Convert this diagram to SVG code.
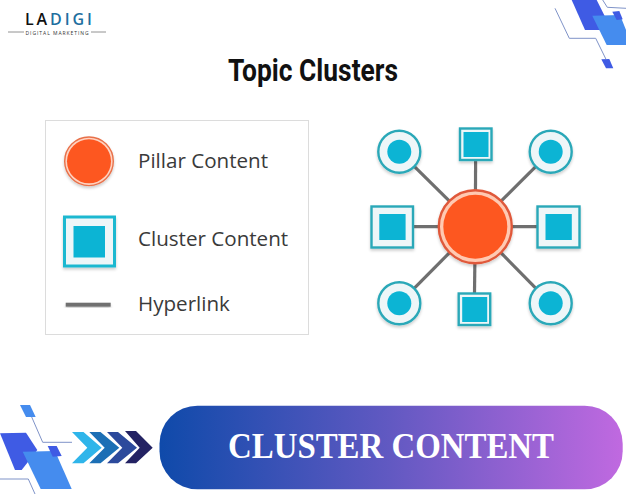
<svg xmlns="http://www.w3.org/2000/svg" width="626" height="494" viewBox="0 0 626 494">
<defs>
<linearGradient id="bannerFill" x1="0" y1="0" x2="1" y2="0"><stop offset="0" stop-color="#0f4aaa"/><stop offset="0.5" stop-color="#6259c2"/><stop offset="1" stop-color="#c069e0"/></linearGradient>
<filter id="soft" x="-20%" y="-20%" width="140%" height="150%"><feGaussianBlur in="SourceAlpha" stdDeviation="1.6"/><feOffset dy="2"/><feComponentTransfer><feFuncA type="linear" slope="0.2"/></feComponentTransfer><feMerge><feMergeNode/><feMergeNode in="SourceGraphic"/></feMerge></filter>
</defs>
<style>
.label{font-family:"Open Sans","Noto Sans",sans-serif;font-size:20.6px;fill:#3a3a3a}
.link{stroke:#6f6f6f;stroke-width:3.2;fill:none}
.shell{fill:#eef6f8;stroke:#2aa8b8;stroke-width:2.4}
.core{fill:#0cb4d4}
.pillar{fill:#fd5720}
.trace{fill:none;stroke:#7f93c8;stroke-width:1}
</style>
<rect width="626" height="494" fill="#ffffff"/>

<g id="logo">
<text x="25" y="24.500" font-family="'Open Sans',sans-serif" font-size="16" font-weight="600" letter-spacing="2.900" fill="#111111">LA<tspan fill="#1f6f9f">DIGI</tspan></text>
<path d="M8 32H24M91 32H106" stroke="#777777" stroke-width="0.8"/>
<text x="25.500" y="34.600" font-family="'Open Sans',sans-serif" font-size="5" letter-spacing="0.95" fill="#333333">DIGITAL MARKETING</text>
</g>

<g id="decor-top">
<polygon points="571.700,0 596.700,0 611.700,30 585,30" fill="#3f5be4"/>
<polygon points="592.300,15.700 620,15 626,30 626,45 606.700,45" fill="#458cee"/>
<polygon points="612.300,11.700 619.300,11 622.700,19.300 616.700,20" fill="#3f5be4"/>
<polygon points="601.300,59.300 609.300,59 613.300,68.300 606,68.300" fill="#3f5be4"/>
<path class="trace" d="M555 8.300L569.300 38.300H595.700L606 59.300M602.700 0L607.300 7.300L626 8.300"/>
</g>

<text id="title" x="228" y="81" font-family="Roboto,sans-serif" font-size="31" font-weight="700" textLength="170" lengthAdjust="spacingAndGlyphs" fill="#111111">Topic Clusters</text>

<g id="legend">
<rect x="45.500" y="120.500" width="263" height="214" fill="#ffffff" stroke="#dcdcdc" stroke-width="1"/>
<g id="legend-pillar">
<circle cx="89" cy="161.300" r="24.300" fill="#ffd2c0" stroke="#e8714a" stroke-width="1.400" filter="url(#soft)"/>
<circle cx="89" cy="161.300" r="22" class="pillar"/>
<text class="label" x="138" y="167.500">Pillar Content</text>
</g>
<g id="legend-cluster">
<rect x="64.500" y="217" width="50" height="49" fill="#eef6f8" stroke="#1fb8d0" stroke-width="3" filter="url(#soft)"/>
<rect x="73.500" y="226" width="31.500" height="31.500" class="core"/>
<text class="label" x="138" y="245.500">Cluster Content</text>
</g>
<g id="legend-hyperlink">
<rect x="65.700" y="302.700" width="45" height="4" fill="#6f6f6f" filter="url(#soft)"/>
<text class="label" x="138" y="311">Hyperlink</text>
</g>
</g>

<g id="connectors">
<line class="link" x1="475.300" y1="226.700" x2="399.300" y2="151.700"/>
<line class="link" x1="475.300" y1="226.700" x2="475.700" y2="144"/>
<line class="link" x1="475.300" y1="226.700" x2="550.700" y2="151.700"/>
<line class="link" x1="475.300" y1="226.700" x2="392.300" y2="226.700"/>
<line class="link" x1="475.300" y1="226.700" x2="558.700" y2="226.700"/>
<line class="link" x1="475.300" y1="226.700" x2="399.300" y2="303.300"/>
<line class="link" x1="475.300" y1="226.700" x2="474.300" y2="309.300"/>
<line class="link" x1="475.300" y1="226.700" x2="550.700" y2="303.300"/>
</g>

<g id="pillar">
<circle cx="475.300" cy="226.700" r="36.500" fill="#ffc9b2" stroke="#e0593a" stroke-width="2.400" filter="url(#soft)"/>
<circle cx="475.300" cy="226.700" r="32" class="pillar"/>
</g>
<g id="cluster-tl"><circle cx="399.300" cy="151.700" r="21" class="shell" filter="url(#soft)"/><circle cx="399.300" cy="151.700" r="12" class="core"/></g>
<g id="cluster-t"><rect x="460" y="128.500" width="31.500" height="31.500" class="shell" filter="url(#soft)"/><rect x="463.500" y="132" width="25" height="25" class="core"/></g>
<g id="cluster-tr"><circle cx="550.700" cy="151.700" r="21" class="shell" filter="url(#soft)"/><circle cx="550.700" cy="151.700" r="12" class="core"/></g>
<g id="cluster-l"><rect x="371.500" y="206.500" width="41.500" height="41" class="shell" filter="url(#soft)"/><rect x="379.300" y="214" width="26.300" height="26" class="core"/></g>
<g id="cluster-r"><rect x="537.500" y="206.500" width="42" height="41" class="shell" filter="url(#soft)"/><rect x="545.500" y="214" width="26.300" height="26" class="core"/></g>
<g id="cluster-bl"><circle cx="399.300" cy="303.300" r="21" class="shell" filter="url(#soft)"/><circle cx="399.300" cy="303.300" r="12" class="core"/></g>
<g id="cluster-b"><rect x="458.700" y="293.500" width="31.500" height="31.500" class="shell" filter="url(#soft)"/><rect x="462.200" y="297" width="25" height="25" class="core"/></g>
<g id="cluster-br"><circle cx="550.700" cy="303.300" r="21" class="shell" filter="url(#soft)"/><circle cx="550.700" cy="303.300" r="12" class="core"/></g>

<g id="decor-bottom">
<path class="trace" d="M31.700 417L42.700 442.300H72"/>
<path class="trace" d="M0 479H28.300L35 494"/>
<polygon points="20,405 30,405 35.700,417 26,417" fill="#458cee"/>
<polygon points="0,433.300 26,432.700 37.300,450 21.700,470 15,470" fill="#3f5be4"/>
<polygon points="22.700,451.700 55,451 71.700,489 40.700,489" fill="#458cee"/>
<polygon points="47.700,446 56.700,446 61.700,456 52.700,456.700" fill="#3f5be4"/>
</g>

<g id="chevrons">
<polygon points="72,432 83.500,432 101.700,447.700 83.500,463.300 72,463.300 87.300,447.700" fill="#2fb5ea"/>
<polygon points="89.300,432 100.500,432 119.300,447.700 100.500,463.300 89.300,463.300 104.700,447.700" fill="#1c6fb5"/>
<polygon points="107,432 118,432 137,447.700 118,463.300 107,463.300 122.300,447.700" fill="#2c4a9c"/>
<polygon points="125,431 136,431 152.700,447.700 136,463.300 125,463.300 139.700,447.700" fill="#232263"/>
</g>

<g id="banner">
<rect x="159.500" y="405.700" width="463.200" height="83.600" rx="38" fill="url(#bannerFill)"/>
<text x="228" y="457.500" font-family="'Liberation Serif',serif" font-size="35" font-weight="700" textLength="326" lengthAdjust="spacingAndGlyphs" fill="#ffffff">CLUSTER CONTENT</text>
</g>
</svg>
